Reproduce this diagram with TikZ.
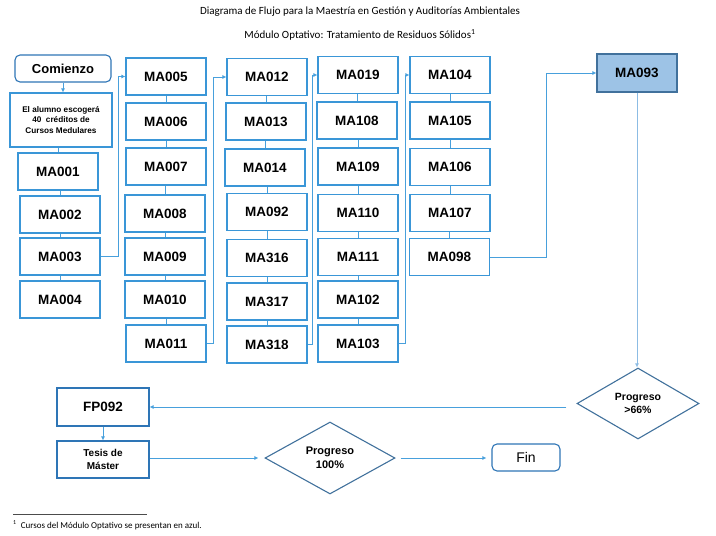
\documentclass[tikz,border=0pt]{standalone}
\usepackage{fontspec}
\setmainfont{Liberation Sans}
\newfontfamily\carl{Carlito}
\usetikzlibrary{shapes.geometric,arrows.meta}
\definecolor{boxc}{RGB}{58,150,215}
\definecolor{darkc}{RGB}{46,117,182}
\definecolor{diac}{RGB}{65,113,156}
\definecolor{linec}{RGB}{72,160,220}
\definecolor{optfill}{RGB}{157,195,230}
\tikzset{
  cbox/.style={draw=boxc, line width=1.1pt, minimum width=80pt, minimum height=37pt, inner sep=0pt, font=\fontsize{13.5}{15}\selectfont\bfseries},
  dbox/.style={draw=darkc, line width=1.1pt, inner sep=0pt, align=center},
  rbox/.style={draw=darkc, line width=1.1pt, rounded corners=5pt, inner sep=0pt},
  dia/.style={draw=diac, line width=1.1pt, diamond, inner sep=0pt, align=center, font=\fontsize{10.5}{13}\selectfont\bfseries},
  link/.style={draw=linec, line width=1pt},
  conn/.style={draw=linec, line width=1pt, -{Latex[length=4pt,width=4pt]}}
}
\begin{document}
\begin{tikzpicture}[x=1pt,y=-1pt]
\useasboundingbox (0,0) rectangle (716,536);
% titles
\node[font=\carl\fontsize{11}{13}\selectfont] (t1) at (360,12) {Diagrama de Flujo para la Maestría en Gestión y Auditorías Ambientales};
\node[font=\carl\fontsize{11}{13}\selectfont] (t2) at (360,35) {Módulo Optativo: Tratamiento de Residuos Sólidos\textsuperscript{1}};
% column 1
\node[rbox, minimum width=96pt, minimum height=27pt, font=\fontsize{13}{15}\selectfont\bfseries] (com) at (63,68.5) {Comienzo};
\node[dbox, draw=boxc, minimum width=102pt, minimum height=54pt, font=\fontsize{8.2}{10.4}\selectfont\bfseries] (alu) at (61,120) {El alumno escogerá\\40\ \ créditos de\\Cursos Medulares};
\node[cbox] (ma001) at (58,171.5) {MA001};
\node[cbox] (ma002) at (60,214.5) {MA002};
\node[cbox] (ma003) at (60,256.5) {MA003};
\node[cbox] (ma004) at (60,299.5) {MA004};
% column 2
\node[cbox] (ma005) at (166,76.5) {MA005};
\node[cbox] (ma006) at (166,121.5) {MA006};
\node[cbox] (ma007) at (166,166.5) {MA007};
\node[cbox] (ma008) at (165,213.5) {MA008};
\node[cbox] (ma009) at (165,256.5) {MA009};
\node[cbox] (ma010) at (165,299.5) {MA010};
\node[cbox] (ma011) at (166,343.5) {MA011};
% column 3
\node[cbox] (ma012) at (267,77) {MA012};
\node[cbox] (ma013) at (266,121.5) {MA013};
\node[cbox] (ma014) at (265,167.5) {MA014};
\node[cbox] (ma092) at (267,212) {MA092};
\node[cbox] (ma316) at (267,258) {MA316};
\node[cbox] (ma317) at (267,301.5) {MA317};
\node[cbox] (ma318) at (267,344.5) {MA318};
% column 4
\node[cbox] (ma019) at (358,75) {MA019};
\node[cbox] (ma108) at (357,120.5) {MA108};
\node[cbox] (ma109) at (358,166.5) {MA109};
\node[cbox] (ma110) at (358,213) {MA110};
\node[cbox] (ma111) at (358,257) {MA111};
\node[cbox] (ma102) at (358,299.5) {MA102};
\node[cbox] (ma103) at (358,343.5) {MA103};
% column 5
\node[cbox] (ma104) at (450,75) {MA104};
\node[cbox] (ma105) at (450,120.5) {MA105};
\node[cbox] (ma106) at (450,167) {MA106};
\node[cbox] (ma107) at (450,213) {MA107};
\node[cbox] (ma098) at (449.5,257) {MA098};
% optional
\node[cbox, draw=diac, fill=optfill, minimum height=38pt] (ma093) at (637,73) {MA093};
% lower part
\node[dia, minimum width=122pt, minimum height=71pt] (d1) at (638,403.5) {Progreso\\{>}66\%};
\node[dbox, minimum width=92pt, minimum height=38pt, font=\fontsize{13.5}{15}\selectfont\bfseries] (fp) at (103,407) {FP092};
\node[dbox, minimum width=92pt, minimum height=37pt, font=\fontsize{10}{13}\selectfont\bfseries] (tes) at (103,459.5) {Tesis de\\Máster};
\node[dia, minimum width=130pt, minimum height=72pt, font=\fontsize{11}{13.5}\selectfont\bfseries] (d2) at (330,458) {Progreso\\100\%};
\node[rbox, minimum width=68pt, minimum height=27pt, font=\fontsize{14}{16}\selectfont] (fin) at (526,457.5) {Fin};
% vertical links
\draw[conn] (com.south) -- (com.south |- alu.north);
\foreach \a/\b in {alu/ma001,ma001/ma002,ma002/ma003,ma003/ma004,
  ma005/ma006,ma006/ma007,ma007/ma008,ma008/ma009,ma009/ma010,ma010/ma011,
  ma012/ma013,ma013/ma014,ma014/ma092,ma092/ma316,ma316/ma317,ma317/ma318,
  ma019/ma108,ma108/ma109,ma109/ma110,ma110/ma111,ma111/ma102,ma102/ma103,
  ma104/ma105,ma105/ma106,ma106/ma107,ma107/ma098}
  \draw[link] (\b.north) -- (\b.north |- \a.south);
% column transfers
\draw[conn] (ma003.east) -- ++(18,0) |- (ma005.west);
\draw[conn] (ma011.east) -- ++(7,0) |- (ma012.west);
\draw[conn] (ma318.east) -- ++(5,0) |- (ma019.west);
\draw[conn] (ma103.east) -- ++(7,0) |- (ma104.west);
\draw[conn] (ma098.east) -- ++(56,0) |- (ma093.west);
\draw[conn, draw=optfill!80!linec] (ma093.south) -- (ma093.south |- d1.north);
\draw[conn, shorten <=10pt] (d1.west |- fp.east) -- (fp.east);
\draw[conn] (fp.south) -- (fp.south |- tes.north);
\draw[conn, shorten >=6pt] (tes.east |- d2.west) -- (d2.west);
\draw[conn, shorten <=5pt, shorten >=5pt] (d2.east) -- (d2.east -| fin.west);
% footnote
\draw[line width=0.6pt, black!70] (13,514) coordinate (fa) -- (147,514) coordinate (fb);
\node[anchor=west, inner sep=0pt, font=\carl\fontsize{9}{10.5}\selectfont] (fn) at (13,525) {\textsuperscript{1}\ \ Cursos del Módulo Optativo se presentan en azul.};
\end{tikzpicture}
\end{document}
